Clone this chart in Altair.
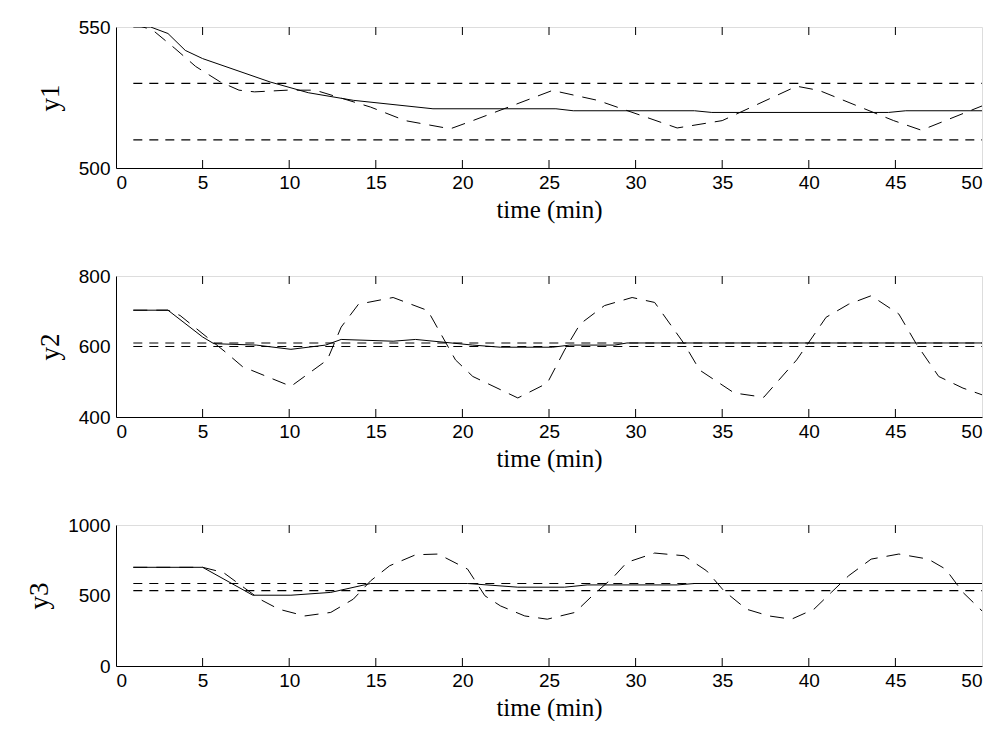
import altair as alt
import pandas as pd

# Panel 1 (y1)
t1_solid = [1, 2, 3, 4, 5, 8.9, 11.1, 13.7, 18.3, 25.4, 26.4, 33.4, 34.4, 44.6, 45.6, 50]
y1_solid = [550, 550, 547.7, 541.7, 538.8, 530.5, 526.7, 524, 521, 521, 520.3, 520.3, 519.7, 519.7, 520.3, 520.3]
t1_dash = [1, 2.1, 3.4, 4.6, 6.0, 7.1, 8, 9.9, 11.5, 14.7, 16.7, 19.3, 20.6, 25.2, 27.8, 32.4, 35, 39.3, 40.6, 44.9, 46.5, 50]
y1_dash = [551, 549, 542.4, 536, 530.6, 527.6, 527, 527.6, 527.6, 521.6, 516.8, 513.9, 516.8, 527.5, 524, 514.2, 516.8, 529, 527.5, 516.8, 513.4, 522]
sp1 = [530, 510]

# Panel 2 (y2)
t2_solid = [1, 3, 5, 5.65, 8.1, 10.1, 12.1, 13, 16, 17.3, 20.6, 22.2, 25.2, 26.2, 28.8, 29.5, 50]
y2_solid = [703, 703, 627, 608, 604, 592, 604, 620, 615, 620, 604, 598, 598, 604, 604, 610, 610]
t2_dash = [1, 3, 3.7, 6.3, 7.3, 10.1, 12.2, 13, 14, 16, 18, 19.6, 20.6, 23.2, 24.9, 25.9, 26.8, 28.2, 29.8, 31.1,
           32.8, 33.7, 35.7, 37.4, 39.3, 41, 42.3, 43.6, 45.2, 46.2, 47.5, 48.9, 50]
y2_dash = [703, 703, 688, 585, 543, 487, 562, 655, 720, 739, 702, 562, 515, 454, 496, 590, 664, 716, 739, 725,
           608, 533, 468, 456, 562, 683, 720, 744, 692, 608, 515, 482, 463]
sp2 = [610, 600]

# Panel 3 (y3)
t3_solid = [1, 5, 7.9, 10.1, 12.4, 14.7, 20.3, 23.2, 25.9, 27.2, 32.4, 33.4, 50]
y3_solid = [700, 700, 502, 502, 522, 585, 585, 559, 559, 575, 575, 585, 585]
t3_dash = [1, 5, 6.2, 8.3, 9.4, 10.9, 12.4, 13.7, 14.7, 15.8, 17.3, 18.6, 20.3, 21.3, 22.2, 23.6, 24.9, 26.5, 27.5,
           28.7, 29.5, 31.1, 32.8, 34.1, 35.1, 36.4, 37.7, 39, 40.3, 41.3, 42.3, 43.6, 45.2, 46.9, 47.9, 48.9, 50]
y3_dash = [700, 700, 663, 474, 403, 355, 380, 474, 604, 711, 789, 794, 687, 498, 426, 355, 332, 380, 498,
           628, 735, 801, 782, 675, 533, 403, 355, 332, 403, 522, 640, 758, 794, 758, 687, 522, 391]
sp3 = [585, 535]

x_ticks = [0, 5, 10, 15, 20, 25, 30, 35, 40, 45, 50]
inner_ticks = [5, 10, 15, 20, 25, 30, 35, 40, 45]

W, H = 866, 141


def panel(name, ts, ys, td, yd, sp, dom, yticks):
    xs = alt.Scale(domain=[0, 50], nice=False)
    ysc = alt.Scale(domain=dom, nice=False, zero=False)
    xax = alt.Axis(values=x_ticks, title="time (min)", grid=False, ticks=False, labelPadding=5,
                   labelFontSize=19, labelFont="Arial", titleFont="Times New Roman", titleFontSize=25,
                   titleFontWeight="normal", titlePadding=5, domainColor="black", labelColor="black",
                   titleColor="black", format="d")
    yax = alt.Axis(values=yticks, title=name, grid=False, ticks=False, labelPadding=6,
                   labelFontSize=19, labelFont="Arial", titleFont="Times New Roman", titleFontSize=27,
                   titleFontWeight="normal", titlePadding=14, domainColor="black", labelColor="black",
                   titleColor="black", format="d")
    ds = pd.DataFrame({"t": ts, "v": ys})
    dd = pd.DataFrame({"t": td, "v": yd})
    dsp = pd.DataFrame({"v": sp})
    dtk = pd.DataFrame({"t": inner_ticks})
    solid = alt.Chart(ds).mark_line(color="black", strokeWidth=1, clip=True).encode(
        x=alt.X("t:Q", scale=xs, axis=xax), y=alt.Y("v:Q", scale=ysc, axis=yax))
    dash = alt.Chart(dd).mark_line(color="black", strokeWidth=1, strokeDash=[14, 9], clip=True).encode(
        x=alt.X("t:Q", scale=xs), y=alt.Y("v:Q", scale=ysc))
    spl = alt.Chart(dsp).mark_rule(color="black", strokeWidth=1.2, strokeDash=[9, 7]).encode(
        y=alt.Y("v:Q", scale=ysc), x=alt.datum(1, scale=xs), x2=alt.datum(50))
    tk_top = alt.Chart(dtk).mark_rule(color="black", strokeWidth=1).encode(
        x=alt.X("t:Q", scale=xs), y=alt.value(0), y2=alt.value(8))
    tk_bot = alt.Chart(dtk).mark_rule(color="black", strokeWidth=1).encode(
        x=alt.X("t:Q", scale=xs), y=alt.value(H), y2=alt.value(H - 8))
    return alt.layer(spl, dash, solid, tk_top, tk_bot).properties(width=W, height=H)


p1 = panel("y1", t1_solid, y1_solid, t1_dash, y1_dash, sp1, [500, 550], [500, 550])
p2 = panel("y2", t2_solid, y2_solid, t2_dash, y2_dash, sp2, [400, 800], [400, 600, 800])
p3 = panel("y3", t3_solid, y3_solid, t3_dash, y3_dash, sp3, [0, 1000], [0, 500, 1000])

chart = alt.vconcat(p1, p2, p3, spacing=43).properties(
    padding={"left": 17, "top": 9, "right": 5, "bottom": 0}
).configure_view(stroke="black", strokeWidth=1.2).configure(background="white")

chart.save("out.html", embed_options={"renderer": "svg", "actions": False})
